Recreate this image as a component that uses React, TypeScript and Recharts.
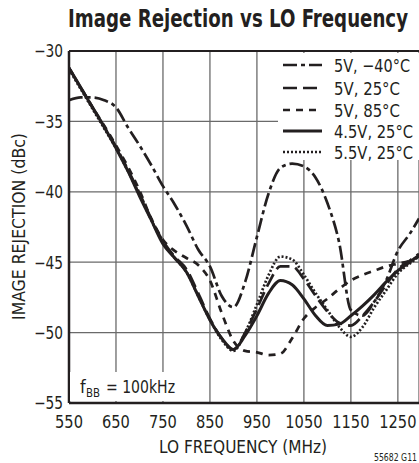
import React from 'react';
import { LineChart, Line, XAxis, YAxis, CartesianGrid, ReferenceLine } from 'recharts';

const freq = [550, 575, 600, 625, 650, 675, 700, 725, 750, 775, 800, 825, 850, 875, 900, 925, 950, 975, 1000, 1025, 1050, 1075, 1100, 1125, 1150, 1175, 1200, 1225, 1250, 1275, 1295];
const v5m40 = [-33.5, -33.3, -33.3, -33.5, -34.0, -35.4, -36.7, -38.1, -39.6, -40.9, -42.4, -44.1, -45.3, -47.4, -48.2, -46.4, -43.2, -40.1, -38.3, -38.0, -38.2, -39.0, -40.8, -43.6, -48.4, -48.8, -47.8, -46.3, -44.2, -43.0, -41.9];
const v5t25 = [-31.2, -32.6, -34.0, -35.4, -36.8, -38.4, -40.1, -41.9, -43.5, -44.6, -45.5, -47.2, -49.0, -50.4, -51.2, -50.0, -48.3, -46.5, -45.3, -45.3, -46.2, -47.4, -48.5, -49.3, -49.5, -48.8, -47.8, -46.6, -45.5, -44.9, -44.4];
const v5t85 = [-31.2, -32.6, -34.0, -35.3, -36.7, -38.2, -39.9, -41.9, -43.4, -44.2, -44.7, -45.2, -46.3, -48.6, -50.6, -51.3, -51.4, -51.6, -51.5, -50.4, -49.0, -48.2, -47.6, -46.9, -46.3, -45.9, -45.6, -45.3, -45.1, -44.9, -44.6];
const v45t25 = [-31.2, -32.6, -34.0, -35.4, -36.9, -38.5, -40.3, -42.0, -43.7, -44.7, -45.7, -47.4, -49.1, -50.4, -51.2, -50.2, -48.8, -47.2, -46.3, -46.6, -47.6, -48.8, -49.5, -49.4, -48.8, -48.1, -47.3, -46.4, -45.6, -45.0, -44.5];
const v55t25 = [-31.3, -32.7, -34.1, -35.5, -36.9, -38.5, -40.2, -42.0, -43.6, -44.7, -45.7, -47.4, -49.1, -50.5, -51.3, -50.0, -48.0, -45.9, -44.6, -44.8, -45.9, -47.2, -48.4, -49.6, -50.3, -49.6, -48.2, -47.0, -45.8, -45.1, -44.6];

const xTicks = [550, 650, 750, 850, 950, 1050, 1150, 1250];
const yTicks = [-55, -50, -45, -40, -35, -30];
const seriesNames = ['5V, \u221240\u00B0C', '5V, 25\u00B0C', '5V, 85\u00B0C', '4.5V, 25\u00B0C', '5.5V, 25\u00B0C'];
const seriesKeys = ['m40', 't25', 't85', 'v45', 'v55'];
const seriesDash = ['14 4 4 4', '14 6', '7 6', undefined, '2 2'];
const legendWidths = [76, 66, 66, 79, 79];

const data = freq.map((f, i) => ({
  f,
  m40: v5m40[i],
  t25: v5t25[i],
  t85: v5t85[i],
  v45: v45t25[i],
  v55: v55t25[i],
}));

const FONT = "'Liberation Sans Narrow', 'DejaVu Sans Condensed', 'Liberation Sans', Arial, sans-serif";
const INK = '#231f20';

const fmt = (v: number) => String(v).replace('-', '\u2212');

const XTick = (props: any) => {
  const { x, y, payload } = props;
  const s = String(payload.value);
  return (
    <text
      x={x}
      y={y}
      dy={12.5}
      textAnchor="middle"
      fontSize={17.5}
      fontFamily={FONT}
      fill={INK}
      textLength={s.length * 9.3}
      lengthAdjust="spacingAndGlyphs"
    >
      {s}
    </text>
  );
};

const YTick = (props: any) => {
  const { x, y, payload } = props;
  const s = fmt(payload.value);
  return (
    <text
      x={x}
      y={y}
      dy={6.3}
      textAnchor="end"
      fontSize={17.5}
      fontFamily={FONT}
      fill={INK}
      textLength={29}
      lengthAdjust="spacingAndGlyphs"
    >
      {s}
    </text>
  );
};

export default function App() {
  const W = 419;
  const H = 463;
  return (
    <div style={{ position: 'absolute', left: 0, top: 0, width: W, height: H, overflow: 'hidden', background: '#fff' }}>
      <LineChart
        width={W}
        height={H}
        data={data}
        margin={{ top: 51, right: 0, bottom: 30, left: 0 }}
      >
        <CartesianGrid stroke="#6a6a6a" strokeWidth={1.3} />
        <XAxis
          dataKey="f"
          type="number"
          domain={[550, 1295]}
          ticks={xTicks}
          allowDataOverflow
          height={30}
          tickLine={false}
          tickSize={0}
          tickMargin={12}
          axisLine={{ stroke: INK, strokeWidth: 2.5 }}
          tick={<XTick />}
        />
        <YAxis
          type="number"
          domain={[-55, -30]}
          ticks={yTicks}
          allowDataOverflow
          width={69}
          tickLine={false}
          tickSize={0}
          tickMargin={6}
          axisLine={{ stroke: INK, strokeWidth: 2.5 }}
          tick={<YTick />}
        />
        <ReferenceLine y={-30} stroke={INK} strokeWidth={2} />
        {seriesKeys.map((k, i) => (
          <Line
            key={k}
            dataKey={k}
            name={seriesNames[i]}
            type="monotone"
            stroke={INK}
            strokeWidth={i === 3 ? 3 : 2.7}
            strokeDasharray={seriesDash[i]}
            dot={false}
            activeDot={false}
            isAnimationActive={false}
          />
        ))}
      </LineChart>
      <svg
        width={W}
        height={H}
        style={{ position: 'absolute', left: 0, top: 0, pointerEvents: 'none' }}
      >
        <text
          x={68}
          y={27}
          fontSize={25}
          fontWeight="bold"
          fontFamily={FONT}
          fill={INK}
          textLength={340}
          lengthAdjust="spacingAndGlyphs"
        >
          Image Rejection vs LO Frequency
        </text>
        <text
          x={25}
          y={226.5}
          transform="rotate(-90, 25, 226.5)"
          textAnchor="middle"
          fontSize={18}
          fontFamily={FONT}
          fill={INK}
          textLength={187}
          lengthAdjust="spacingAndGlyphs"
        >
          IMAGE REJECTION (dBc)
        </text>
        <text
          x={243}
          y={453}
          textAnchor="middle"
          fontSize={18}
          fontFamily={FONT}
          fill={INK}
          textLength={168}
          lengthAdjust="spacingAndGlyphs"
        >
          LO FREQUENCY (MHz)
        </text>
        <text
          x={374}
          y={461}
          fontSize={10}
          fontFamily={FONT}
          fill={INK}
          textLength={43}
          lengthAdjust="spacingAndGlyphs"
        >
          55682 G11
        </text>
        <rect x={278} y={53} width={141} height={107} fill="#fff" />
        {seriesNames.map((n, i) => {
          const cy = [65, 88, 110, 131, 152][i];
          return (
            <g key={n}>
              <line
                x1={283}
                x2={322}
                y1={cy}
                y2={cy}
                stroke={INK}
                strokeWidth={i === 3 ? 3 : 2.7}
                strokeDasharray={seriesDash[i]}
              />
              <text
                x={334}
                y={cy + 6.5}
                fontSize={18}
                fontFamily={FONT}
                fill={INK}
                textLength={legendWidths[i]}
                lengthAdjust="spacingAndGlyphs"
              >
                {n}
              </text>
            </g>
          );
        })}
        <rect x={70} y={372} width={120} height={29} fill="#fff" />
        <text x={80} y={393} fontSize={18} fontFamily={FONT} fill={INK}>f</text>
        <text
          x={86}
          y={397}
          fontSize={13}
          fontFamily={FONT}
          fill={INK}
          textLength={14}
          lengthAdjust="spacingAndGlyphs"
        >
          BB
        </text>
        <text
          x={106}
          y={393}
          fontSize={18}
          fontFamily={FONT}
          fill={INK}
          textLength={69}
          lengthAdjust="spacingAndGlyphs"
        >
          = 100kHz
        </text>
      </svg>
    </div>
  );
}
